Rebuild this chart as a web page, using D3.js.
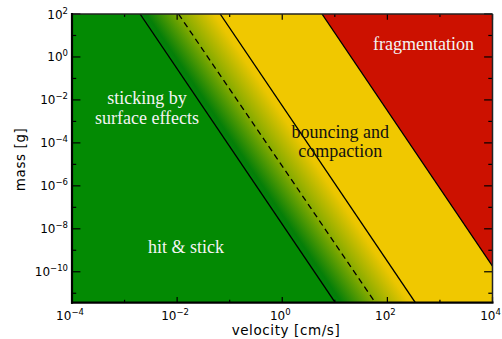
<!DOCTYPE html>
<html>
<head>
  <meta charset="UTF-8">
  <script src="https://d3js.org/d3.v7.min.js"></script>
  <title>Collision regimes</title>
  <style type="text/css">
    html, body { width:100%; height:100%; margin:0; background:#fff; }
    .tick-label { font-family: "DejaVu Sans", sans-serif; font-size: 12px; fill: #000; }
    .axis-title { font-family: "DejaVu Sans", sans-serif; font-size: 13.5px; fill: #000; letter-spacing: 0.6px; }
    .region { font-family: "Liberation Serif", "Times New Roman", serif; font-size: 18px; text-anchor: middle; }
  </style>
</head>
<body>
<div class="content"><svg id="chart" width="502" height="339"></svg></div>
<script>
  // axis ranges
  var velocityRange = [1e-4, 1e4];
  var massRange = [Math.pow(10, -11.44), 1e2];

  // tick exponents
  var xMajorExp = [-4, -2, 0, 2, 4];
  var xMinorExp = [-3, -1, 1, 3];
  var yMajorExp = [-10, -8, -6, -4, -2, 0, 2];
  var yMinorExp = [-11, -9, -7, -5, -3, -1, 1];

  // regime boundaries: velocity where each line meets the top and bottom mass
  var boundaryNames = ["hit & stick", "sticking threshold", "bouncing", "fragmentation"];
  var velAtTopMass = [0.00197, 0.0106, 0.0659, 5.70];
  var velAtBottomMass = [10.2, 59.0, 341, 29500];

  // labels
  var regionLabels = [["sticking by", "surface effects"], ["hit & stick"], ["bouncing and", "compaction"], ["fragmentation"]];
  var regionLabelVel = [0.00268, 0.0148, 12.7, 485];
  var regionLabelMass = [0.0065, 7.6e-10, 1.71e-4, 2.12];

  var margin = {top: 14, right: 9.5, bottom: 36.3, left: 72},
      svgWidth = 502, svgHeight = 339,
      width = svgWidth - margin.left - margin.right,
      height = svgHeight - margin.top - margin.bottom;

  var svg = d3.select("#chart");

  var xScale = d3.scaleLog().domain(velocityRange).range([0, width]);
  var yScale = d3.scaleLog().domain(massRange).range([height, 0]);

  var defs = svg.append("defs");
  defs.append("clipPath").attr("id", "plotclip")
    .append("rect").attr("width", width).attr("height", height);

  var plot = svg.append("g")
    .attr("transform", "translate(" + margin.left + "," + margin.top + ")");

  var area = plot.append("g").attr("clip-path", "url(#plotclip)");

  // background green
  area.append("rect").attr("width", width).attr("height", height).attr("fill", "#038a03");

  function linePts(i) {
    return [[xScale(velAtTopMass[i]), yScale(massRange[1])], [xScale(velAtBottomMass[i]), yScale(massRange[0])]];
  }
  function band(a, b) {
    var p = linePts(a), q = linePts(b);
    return [p[0], p[1], q[1], q[0]];
  }

  // gradient across the transition band, perpendicular to the boundaries
  var l0 = linePts(0), l2 = linePts(2);
  var dx = l0[1][0] - l0[0][0], dy = l0[1][1] - l0[0][1];
  var len = Math.sqrt(dx * dx + dy * dy);
  var nx = dy / len, ny = -dx / len;
  var dist = (l2[0][0] - l0[0][0]) * nx + (l2[0][1] - l0[0][1]) * ny;
  var grad = defs.append("linearGradient").attr("id", "trans")
    .attr("gradientUnits", "userSpaceOnUse")
    .attr("x1", l0[0][0]).attr("y1", l0[0][1])
    .attr("x2", l0[0][0] + nx * dist).attr("y2", l0[0][1] + ny * dist);
  [[0, "#02820a"], [0.08, "#057f08"], [0.48, "#82aa00"], [0.92, "#ebc600"], [1, "#f0c800"]].forEach(function(s) {
    grad.append("stop").attr("offset", s[0]).attr("stop-color", s[1]);
  });

  var line = d3.line();
  area.append("path").attr("d", line(band(0, 2)) + "Z").attr("fill", "url(#trans)");
  area.append("path").attr("d", line(band(2, 3)) + "Z").attr("fill", "#f0c800");
  var l3 = linePts(3);
  area.append("path")
    .attr("d", line([l3[0], l3[1], [width + 200, l3[1][1]], [width + 200, l3[0][1]]]) + "Z")
    .attr("fill", "#cc1100");

  // boundary lines
  area.selectAll("line.bound")
    .data(boundaryNames)
    .enter()
    .append("line")
    .attr("class", "bound")
    .attr("x1", function(d, i) { return xScale(velAtTopMass[i]); })
    .attr("y1", yScale(massRange[1]))
    .attr("x2", function(d, i) { return xScale(velAtBottomMass[i]); })
    .attr("y2", yScale(massRange[0]))
    .attr("stroke", "#000")
    .attr("stroke-width", 1.3)
    .attr("stroke-dasharray", function(d, i) { return i == 1 ? "6,4" : null; });

  // region labels
  var colors = ["#f4f4f4", "#f4f4f4", "#111", "#f4f4f4"];
  var lineGap = [20, 0, 19, 0];
  regionLabels.forEach(function(lines, i) {
    var t = plot.append("text").attr("class", "region")
      .attr("x", xScale(regionLabelVel[i]))
      .attr("y", yScale(regionLabelMass[i]))
      .attr("fill", colors[i]);
    lines.forEach(function(s, k) {
      t.append("tspan").attr("x", xScale(regionLabelVel[i])).attr("dy", k == 0 ? 0 : lineGap[i]).text(s);
    });
  });

  // ticks, all pointing inward
  var ticksG = plot.append("g").attr("stroke", "#000").attr("stroke-width", 1.2);
  function tickLines(vals, isX, lenTick) {
    vals.forEach(function(e) {
      var v = Math.pow(10, e);
      if (isX) {
        var x = xScale(v);
        ticksG.append("line").attr("x1", x).attr("x2", x).attr("y1", height).attr("y2", height - lenTick);
        ticksG.append("line").attr("x1", x).attr("x2", x).attr("y1", 0).attr("y2", lenTick);
      } else {
        var y = yScale(v);
        ticksG.append("line").attr("y1", y).attr("y2", y).attr("x1", 0).attr("x2", lenTick);
        ticksG.append("line").attr("y1", y).attr("y2", y).attr("x1", width).attr("x2", width - lenTick);
      }
    });
  }
  tickLines(xMajorExp, true, 5.8);
  tickLines(xMinorExp, true, 2.9);
  tickLines(yMajorExp, false, 8.4);
  tickLines(yMinorExp, false, 4.2);

  // frame
  plot.append("line").attr("x1", 0).attr("x2", width).attr("y1", 0).attr("y2", 0).attr("stroke", "#222").attr("stroke-width", 1.5);
  plot.append("line").attr("x1", width).attr("x2", width).attr("y1", 0).attr("y2", height).attr("stroke", "#222").attr("stroke-width", 1.5);
  plot.append("line").attr("x1", 0).attr("x2", 0).attr("y1", -1).attr("y2", height + 1).attr("stroke", "#000").attr("stroke-width", 2.2);
  plot.append("line").attr("x1", -1).attr("x2", width + 1).attr("y1", height).attr("y2", height).attr("stroke", "#000").attr("stroke-width", 2.2);

  function powLabel(t, e) {
    t.append("tspan").text("10");
    t.append("tspan").attr("dy", -5).attr("font-size", "8.5px").text(e < 0 ? "\u2212" + (-e) : "" + e);
  }

  xMajorExp.forEach(function(e) {
    var t = plot.append("text").attr("class", "tick-label")
      .attr("x", xScale(Math.pow(10, e)) - 2).attr("y", height + 17.5)
      .attr("text-anchor", "middle");
    powLabel(t, e);
  });
  yMajorExp.forEach(function(e) {
    var t = plot.append("text").attr("class", "tick-label")
      .attr("x", -4).attr("y", yScale(Math.pow(10, e)) + 4.5)
      .attr("text-anchor", "end");
    powLabel(t, e);
  });

  plot.append("text").attr("class", "axis-title")
    .attr("x", 214).attr("y", height + 32.5)
    .attr("text-anchor", "middle")
    .text("velocity [cm/s]");
  plot.append("text").attr("class", "axis-title")
    .attr("transform", "translate(" + (-47) + "," + (height / 2 + 1) + ") rotate(-90)")
    .attr("text-anchor", "middle")
    .text("mass [g]");
</script>
</body>
</html>
